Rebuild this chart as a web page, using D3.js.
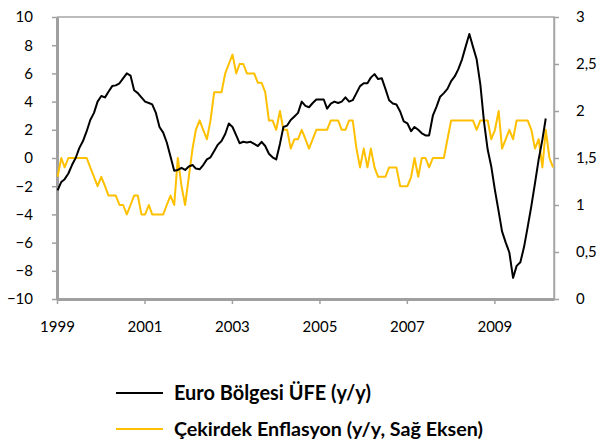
<!DOCTYPE html>
<html>
<head>
<meta charset="utf-8">
<script src="https://cdn.jsdelivr.net/npm/d3@7"></script>
<style>
  html, body { margin: 0; padding: 0; background: #fff; }
  svg { display: block; font-family: Lato, "Open Sans", sans-serif; }
</style>
</head>
<body>
<svg id="chart" width="609" height="444"></svg>
<script>
// Monthly series, starting January 1999
const startYear = 1999;

// Euro area producer prices, y/y % (left axis)
const ppi = [
  -2.3, -1.7, -1.5, -1.1, -0.5, 0.0, 0.7, 1.2, 1.9, 2.7, 3.2, 4.0,
  4.4, 4.3, 4.7, 5.1, 5.15, 5.3, 5.65, 6.0, 5.85, 4.8, 4.6, 4.3,
  4.0, 3.9, 3.8, 3.2, 2.2, 1.8, 1.1, 0.1, -0.9, -0.85, -0.7, -0.85,
  -0.6, -0.5, -0.75, -0.8, -0.5, -0.1, 0.05, 0.5, 0.95, 1.2, 1.7, 2.45,
  2.2, 1.6, 1.05, 1.15, 1.1, 1.15, 1.0, 0.85, 1.15, 0.85, 0.3, 0.05,
  -0.1, 1.0, 2.2, 2.3, 2.7, 2.95, 3.2, 4.0, 3.7, 3.6, 3.9, 4.15,
  4.15, 4.15, 3.5, 3.85, 4.0, 3.9, 4.0, 4.3, 4.0, 4.1, 4.6, 5.1,
  5.3, 5.3, 5.7, 5.95, 5.6, 5.65, 4.9, 4.1, 3.87, 3.8, 3.3, 2.6,
  2.45, 1.9, 2.2, 2.0, 1.75, 1.6, 1.6, 3.0, 3.65, 4.35, 4.6, 4.9,
  5.45, 5.8, 6.3, 7.0, 7.9, 8.8, 7.9, 7.0, 5.2, 2.6, 0.6, -0.6,
  -2.3, -3.8, -5.2, -6.0, -6.7, -8.5, -7.65, -7.4, -6.3, -4.9, -3.4, -1.8,
  -0.1, 1.3, 2.8
];

// Core inflation, y/y % (right axis)
const core = [
  1.3, 1.5, 1.4, 1.5, 1.5, 1.5, 1.5, 1.5, 1.5, 1.4, 1.3, 1.2,
  1.3, 1.2, 1.1, 1.1, 1.1, 1.0, 1.0, 0.9, 1.0, 1.1, 1.1, 0.9,
  0.9, 1.0, 0.9, 0.9, 0.9, 0.9, 1.0, 1.1, 1.0, 1.5, 1.2, 1.0,
  1.3, 1.6, 1.8, 1.9, 1.8, 1.7, 1.9, 2.2, 2.2, 2.2, 2.4, 2.5,
  2.6, 2.4, 2.5, 2.5, 2.4, 2.4, 2.4, 2.3, 2.3, 2.2, 1.9, 1.9,
  1.8, 2.0, 1.8, 1.8, 1.6, 1.7, 1.7, 1.8, 1.7, 1.6, 1.7, 1.8,
  1.8, 1.8, 1.8, 1.9, 1.9, 1.9, 1.8, 1.8, 1.9, 1.9, 1.6, 1.4,
  1.6, 1.4, 1.6, 1.4, 1.3, 1.3, 1.3, 1.4, 1.4, 1.4, 1.2, 1.2,
  1.2, 1.3, 1.5, 1.3, 1.5, 1.5, 1.4, 1.5, 1.5, 1.5, 1.5, 1.7,
  1.9, 1.9, 1.9, 1.9, 1.9, 1.9, 1.9, 1.8, 1.9, 1.9, 1.9, 1.7,
  1.8, 2.0, 1.6, 1.7, 1.8, 1.7, 1.9, 1.9, 1.9, 1.9, 1.8, 1.6,
  1.7, 1.4, 1.8, 1.5, 1.4
];

const leftTicks = [-10, -8, -6, -4, -2, 0, 2, 4, 6, 8, 10];
const rightTicks = [0, 0.5, 1, 1.5, 2, 2.5, 3];
const rightTickLabels = ["0", "0,5", "1", "1,5", "2", "2,5", "3"];
const yearTicks = [1999, 2001, 2003, 2005, 2007, 2009];
const seriesNames = ["Euro Bölgesi ÜFE (y/y)", "Çekirdek Enflasyon (y/y, Sağ Eksen)"];
const seriesColors = ["#000000", "#FFC000"];

// Layout
const plot = { left: 57, right: 554, top: 17, bottom: 299 };
const axisGray = "#a0a0a0";

const svg = d3.select("#chart");

// Each observation sits a few days into its month
const dateOf = i => new Date(Date.UTC(startYear, i, 6));

const x = d3.scaleUtc()
  .domain([new Date(Date.UTC(startYear, 0, 1)), new Date(Date.UTC(2010, 4, 14))])
  .range([plot.left, plot.right]);
const yL = d3.scaleLinear().domain([-10, 10]).range([plot.bottom, plot.top]);
const yR = d3.scaleLinear().domain([0, 3]).range([plot.bottom, plot.top]);

// Plot frame (top and right edges)
svg.append("path")
  .attr("d", `M${plot.left},${plot.top}H${plot.right}V${plot.bottom}`)
  .attr("fill", "none")
  .attr("stroke", "#a6a6a6")
  .attr("stroke-width", 1.5);

// Left axis
const gL = svg.append("g")
  .attr("transform", `translate(${plot.left},0)`)
  .call(d3.axisLeft(yL).tickValues(leftTicks).tickSize(5).tickSizeOuter(0).tickPadding(19)
    .tickFormat(d3.format("d")));

// Right axis
const gR = svg.append("g")
  .attr("transform", `translate(${plot.right},0)`)
  .call(d3.axisRight(yR).tickValues(rightTicks).tickSize(5).tickSizeOuter(0).tickPadding(17)
    .tickFormat((d, i) => rightTickLabels[i]));

// Bottom axis
const gB = svg.append("g")
  .attr("transform", `translate(0,${plot.bottom})`)
  .call(d3.axisBottom(x)
    .tickValues(yearTicks.map(y => new Date(Date.UTC(y, 0, 1))))
    .tickSize(5).tickSizeOuter(0).tickPadding(17)
    .tickFormat(d3.utcFormat("%Y")));

[gL, gR, gB].forEach(g => {
  g.selectAll("text").attr("font-size", 15).attr("fill", "#000")
    .attr("font-family", "Lato, 'Open Sans', sans-serif");
  g.selectAll(".tick line").attr("stroke", axisGray).attr("stroke-width", 1.5);
});
gL.select(".domain").attr("stroke", axisGray).attr("stroke-width", 3);
gB.select(".domain").attr("stroke", axisGray).attr("stroke-width", 3);
gR.select(".domain").attr("stroke", "#a6a6a6").attr("stroke-width", 1.5);

// Series lines
const lineL = d3.line().x((d, i) => x(dateOf(i))).y(d => yL(d));
const lineR = d3.line().x((d, i) => x(dateOf(i))).y(d => yR(d));

svg.append("path")
  .datum(core)
  .attr("d", lineR)
  .attr("fill", "none")
  .attr("stroke", seriesColors[1])
  .attr("stroke-width", 2)
  .attr("stroke-linejoin", "round");

svg.append("path")
  .datum(ppi)
  .attr("d", lineL)
  .attr("fill", "none")
  .attr("stroke", seriesColors[0])
  .attr("stroke-width", 2)
  .attr("stroke-linejoin", "round");

// Legend
const legendRows = [
  { name: seriesNames[0], color: seriesColors[0], y: 393, width: 197 },
  { name: seriesNames[1], color: seriesColors[1], y: 429, width: 309 }
];
const lg = svg.append("g");
legendRows.forEach(r => {
  lg.append("line")
    .attr("x1", 116).attr("x2", 163)
    .attr("y1", r.y).attr("y2", r.y)
    .attr("stroke", r.color).attr("stroke-width", 2);
  const t = lg.append("text")
    .attr("x", 174).attr("y", r.y + 7)
    .attr("font-weight", "bold")
    .attr("font-size", 17)
    .attr("fill", "#000")
    .text(r.name);
  // fit the label to its measured run length
  const w = t.node().getComputedTextLength();
  if (w > 0) t.attr("font-size", (17 * r.width / w).toFixed(2));
});
</script>
</body>
</html>
